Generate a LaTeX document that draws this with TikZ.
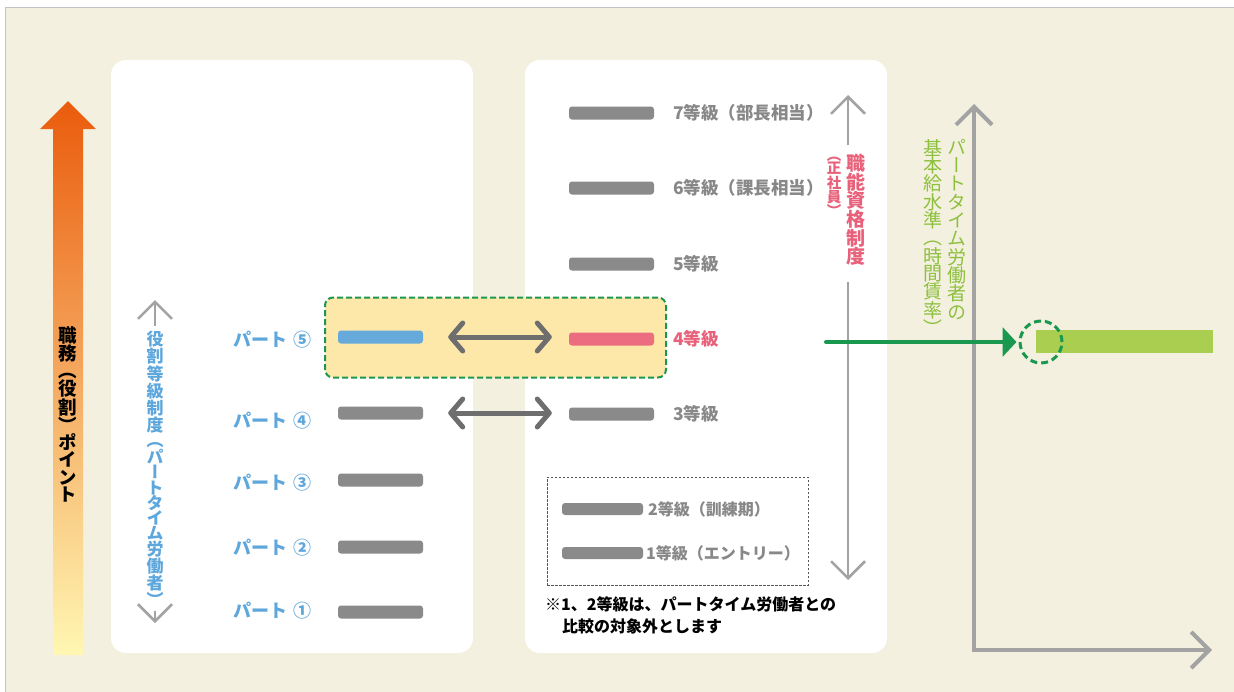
\documentclass[tikz,border=0pt]{standalone}
\usepackage{fontspec}
\newfontfamily\jp{Noto Sans CJK JP}
\newfontfamily\vjp{Noto Sans CJK JP}[RawFeature=+vert]
\usetikzlibrary{arrows.meta}
\definecolor{beige}{HTML}{F3F0DF}
\definecolor{frameGray}{HTML}{C2C2C8}
\definecolor{orTop}{HTML}{EA5B0C}
\definecolor{orMid}{HTML}{F7BB6A}
\definecolor{orBot}{HTML}{FFF7B3}
\definecolor{blueText}{HTML}{5EA7DC}
\definecolor{blueBar}{HTML}{66AADC}
\definecolor{barGray}{HTML}{8A8A8A}
\definecolor{labelGray}{HTML}{888888}
\definecolor{pinkBar}{HTML}{EC6C80}
\definecolor{pinkText}{HTML}{E8607A}
\definecolor{darkArrow}{HTML}{6E6E6E}
\definecolor{axGray}{HTML}{A3A3A3}
\definecolor{dgreen}{HTML}{1A9850}
\definecolor{lime}{HTML}{AACE50}
\definecolor{greenText}{HTML}{8DC03C}
\definecolor{yellowBox}{HTML}{FDE8A9}
\definecolor{dotGray}{HTML}{555555}
\begin{document}
\begin{tikzpicture}[x=1pt,y=-1pt,
  bar/.style={rectangle, rounded corners=3pt, minimum width=85pt, minimum height=13pt, inner sep=0pt, fill=barGray},
  smallbar/.style={bar, minimum width=81pt, minimum height=12pt},
  plbl/.style={font=\jp\bfseries\fontsize{18}{20}\selectfont, text=blueText, anchor=west, inner sep=0pt},
  glbl/.style={font=\jp\bfseries\fontsize{17.5}{20}\selectfont, text=labelGray, anchor=west, inner sep=0pt},
  slbl/.style={font=\jp\bfseries\fontsize{16}{18}\selectfont, text=labelGray, anchor=west, inner sep=0pt},
  vcol/.style={align=center, inner sep=0pt, anchor=north},
  vax/.style={draw=axGray, line width=2.5pt, -{Straight Barb[length=17pt,width=34pt]}},
  dbl/.style={draw=darkArrow, line width=5pt, line cap=round,
     {Straight Barb[length=12pt,width=28pt,round]}-{Straight Barb[length=12pt,width=28pt,round]}},
  note/.style={font=\jp\bfseries\fontsize{16}{21}\selectfont, text=black, anchor=west, inner sep=0pt}
]
\useasboundingbox (0,0) rectangle (1234,691);
% background frame
\fill[beige, draw=frameGray, line width=1.2pt] (5.5,7.5) rectangle (1260,710);
% panels
\fill[white, rounded corners=15pt] (111,60) rectangle (473,653);
\fill[white, rounded corners=15pt] (525,60) rectangle (887,653);

% orange gradient arrow
\shade[top color=orTop, middle color=orMid, bottom color=orBot]
  (53,655) -- (53,129) -- (40,129) -- (68,101) -- (96,129) -- (83,129) -- (83,655) -- cycle;
\node[vcol, font=\vjp\bfseries\fontsize{18.5}{17.1}\selectfont, text=black] (otext) at (68,326)
  {職\\務\\（\\役\\割\\）\\ポ\\イ\\ン\\ト};

% left panel vertical arrow + text
\node[vcol, font=\vjp\bfseries\fontsize{17}{15.3}\selectfont, text=blueText] (btext) at (155,331)
  {役\\割\\等\\級\\制\\度\\（\\パ\\ー\\ト\\タ\\イ\\ム\\労\\働\\者\\）};
\coordinate (lt) at (155,300);
\coordinate (lb) at (155,623);
\draw[vax, shorten <=5pt] (btext.north) -- (lt);
\draw[vax, shorten <=4pt] (btext.south) -- (lb);

% highlight box
\node[draw=dgreen, dash pattern=on 6pt off 3pt, line width=2pt, fill=yellowBox,
      rounded corners=8pt, minimum width=341pt, minimum height=80pt, inner sep=0pt] (hl) at (495.5,337.5) {};

% left bars
\node[bar, fill=blueBar] (p5) at (380.5,337) {};
\node[bar] (p4) at (380.5,413) {};
\node[bar] (p3) at (380.5,480) {};
\node[bar] (p2) at (380.5,547) {};
\node[bar] (p1) at (380.5,612) {};
\node[plbl] (lp5) at (233,340) {パート\hspace{6pt}⑤};
\node[plbl] (lp4) at (233,421) {パート\hspace{6pt}④};
\node[plbl] (lp3) at (233,483) {パート\hspace{6pt}③};
\node[plbl] (lp2) at (233,548) {パート\hspace{6pt}②};
\node[plbl] (lp1) at (233,611) {パート\hspace{6pt}①};

% right bars
\node[bar] (g7) at (611.5,113) {};
\node[bar] (g6) at (611.5,188) {};
\node[bar] (g5) at (611.5,264) {};
\node[bar, fill=pinkBar] (g4) at (611.5,339) {};
\node[bar] (g3) at (611.5,414) {};
\node[glbl] (l7) at (673,113) {7等級（部長相当）};
\node[glbl] (l6) at (673,188) {6等級（課長相当）};
\node[glbl] (l5) at (673,264) {5等級};
\node[glbl, text=pinkText] (l4) at (673,339) {4等級};
\node[glbl] (l3) at (673,414) {3等級};

% double arrows
\draw[dbl, shorten <=25pt, shorten >=17pt] (p5.east) -- (p5.east -| g4.west);
\draw[dbl, shorten <=25pt, shorten >=17pt] (p4.east) -- (p4.east -| g3.west);

% dotted box with grades 1, 2
\node[draw=dotGray, dash pattern=on 2.5pt off 1.5pt, line width=1pt, minimum width=261pt,
      minimum height=108pt, inner sep=0pt] (nb) at (677.5,531) {};
\node[smallbar] (g2) at (602.5,509) {};
\node[smallbar] (g1) at (602.5,553) {};
\node[slbl] (l2) at (648,509) {2等級（訓練期）};
\node[slbl] (l1) at (646,553) {1等級（エントリー）};
\node[note] (n1) at (545,604) {※1、2等級は、パートタイム労働者との};
\node[note] (n2) at (562,626) {比較の対象外とします};

% right panel vertical arrow + pink text
\node[vcol, font=\vjp\bfseries\fontsize{19}{18.7}\selectfont, text=pinkText] (pcol1) at (856,154)
  {職\\能\\資\\格\\制\\度};
\node[vcol, font=\vjp\bfseries\fontsize{14.5}{13.2}\selectfont, text=pinkText] (pcol2) at (834,157)
  {（\\正\\社\\員\\）};
\coordinate (rt) at (848,95);
\coordinate (rt1) at (848,145);
\coordinate (rb1) at (848,282);
\coordinate (rb) at (848,580);
\draw[vax] (rt1) -- (rt);
\draw[vax] (rb1) -- (rb);

% axes
\coordinate (axtop) at (974,104);
\coordinate (axo) at (974,650);
\coordinate (axr) at (1212,650);
\draw[draw=axGray, line width=4pt, line join=miter,
      {Straight Barb[length=18pt,width=36pt]}-{Straight Barb[length=18pt,width=36pt]}]
      (axtop) -- (axo) -- (axr);
\node[vcol, font=\vjp\fontsize{19}{18.3}\selectfont, text=greenText] (gcol1) at (957,139)
  {パ\\ー\\ト\\タ\\イ\\ム\\労\\働\\者\\の};
\node[vcol, font=\vjp\fontsize{19}{17.1}\selectfont, text=greenText] (gcol2) at (933,139)
  {基\\本\\給\\水\\準\\（\\時\\間\\賃\\率\\）};

% level bar and marker
\fill[lime] (1036,330) rectangle (1213,353);
\node[circle, draw=dgreen, dash pattern=on 7pt off 4pt, line width=3pt, minimum size=42pt, inner sep=0pt] (circ) at (1041,342) {};
\coordinate (gs) at (826,342);
\draw[dgreen, line width=4pt, line cap=round, -{Triangle[length=14pt,width=29pt]}, shorten >=2pt] (gs) -- (circ.west);
\end{tikzpicture}
\end{document}
